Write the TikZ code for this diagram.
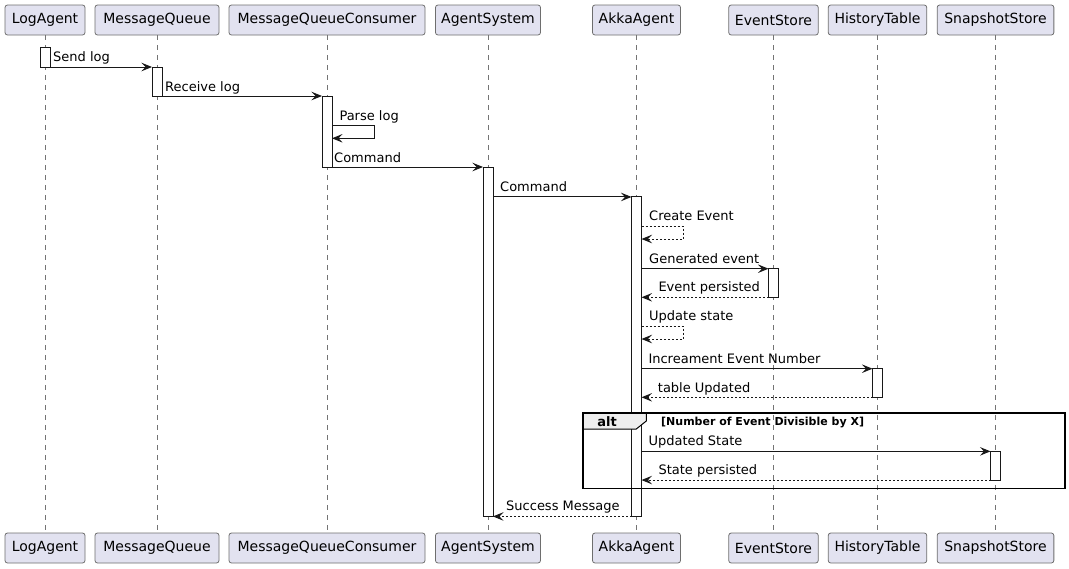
\documentclass[tikz,border=0pt]{standalone}
\usepackage{fontspec}
\setmainfont{DejaVu Sans}
\usetikzlibrary{arrows.meta}
\definecolor{partfill}{HTML}{E2E2F0}
\definecolor{partline}{HTML}{6E6E6E}
\definecolor{ink}{HTML}{181818}
\definecolor{tabfill}{HTML}{EEEEEE}

\begin{document}
\begin{tikzpicture}[x=1pt,y=-1pt,
  part/.style={draw=partline, line width=0.8pt, fill=partfill, rounded corners=2.5pt,
    minimum height=30pt, inner sep=0pt, outer sep=0pt, font=\fontsize{14}{16}\selectfont},
  life/.style={draw=ink!60, line width=0.6pt, dash pattern=on 5pt off 5pt},
  actbar/.style={draw=ink, line width=1pt, fill=white, minimum width=10pt,
    inner sep=0pt, outer sep=0pt},
  msg/.style={draw=ink, line width=1pt, -{Stealth[length=10.5pt,width=8.5pt,inset=4pt]}},
  ret/.style={msg, dash pattern=on 2pt off 2pt},
  lbl/.style={anchor=base west, inner sep=0pt, font=\fontsize{13}{15}\selectfont, text=black}
]
\useasboundingbox (0,0) rectangle (1069,568);

% participants, head and foot
\foreach \nm/\cx/\w/\txt in {la/45/80/LogAgent, mq/157/124/MessageQueue,
    mqc/327/196/MessageQueueConsumer, as/488/105/AgentSystem, aa/636.5/88/AkkaAgent,
    es/773.5/89.5/EventStore, ht/877.5/98.5/HistoryTable, ss/995.5/116.7/SnapshotStore}{
  \node[part, minimum width=\w pt] (\nm T) at (\cx,20) {\txt};
  \node[part, minimum width=\w pt] (\nm B) at (\cx,548) {\txt};
  \draw[life] (\nm T.south) -- (\nm B.north);
}

% activation bars
\node[actbar, minimum height=20pt]    (aLA)  at (45,57) {};
\node[actbar, minimum height=29pt]    (aMQ)  at (157,81.5) {};
\node[actbar, minimum height=71pt]    (aMQC) at (327,131.5) {};
\node[actbar, minimum height=349pt]   (aAS)  at (488,341.5) {};
\node[actbar, minimum height=319.5pt] (aAA)  at (636.5,356.7) {};
\node[actbar, minimum height=28.6pt]  (aES)  at (773.5,283) {};
\node[actbar, minimum height=28.6pt]  (aHT)  at (877.5,383) {};
\node[actbar, minimum height=28.7pt]  (aSS)  at (995.5,465.7) {};

% self-message turning points
\coordinate (p1) at (374.3,125.3);
\coordinate (p2) at (374.3,138.3);
\coordinate (c1) at (683.3,226.3);
\coordinate (c2) at (683.3,239);
\coordinate (u1) at (683.3,326.3);
\coordinate (u2) at (683.3,339);

% messages
\draw[msg] (aLA.south east) -- (aMQ.north west);
\node[lbl] (tSend) at (53,61.7) {Send log};

\draw[msg] (aMQ.south east) -- (aMQC.north west);
\node[lbl] (tRecv) at (165,91) {Receive log};

\draw[msg] (p1 -| aMQC.east) -- (p1) -- (p2) -- (p2 -| aMQC.east);
\node[lbl] (tParse) at (339.3,120.7) {Parse log};

\draw[msg] (aMQC.south east) -- (aAS.north west);
\node[lbl] (tCmd1) at (334,162.3) {Command};

\draw[msg] (aAA.north west -| aAS.east) -- (aAA.north west);
\node[lbl] (tCmd2) at (500,191.7) {Command};

\draw[ret] (c1 -| aAA.east) -- (c1) -- (c2) -- (c2 -| aAA.east);
\node[lbl] (tCreate) at (649,220.7) {Create Event};

\draw[msg] (aES.north west -| aAA.east) -- (aES.north west);
\node[lbl] (tGen) at (649,263.3) {Generated event};

\draw[ret] (aES.south west) -- (aES.south west -| aAA.east);
\node[lbl] (tEvP) at (658.3,291.7) {Event persisted};

\draw[ret] (u1 -| aAA.east) -- (u1) -- (u2) -- (u2 -| aAA.east);
\node[lbl] (tUpd) at (649,320.7) {Update state};

\draw[msg] (aHT.north west -| aAA.east) -- (aHT.north west);
\node[lbl] (tInc) at (648.3,363.3) {Increament Event Number};

\draw[ret] (aHT.south west) -- (aHT.south west -| aAA.east);
\node[lbl] (tTab) at (657.7,392.7) {table Updated};

\draw[msg] (aSS.north west -| aAA.east) -- (aSS.north west);
\node[lbl] (tUS) at (648.3,445.3) {Updated State};

\draw[ret] (aSS.south west) -- (aSS.south west -| aAA.east);
\node[lbl] (tSP) at (658.3,474.3) {State persisted};

\draw[ret] (aAA.south west) -- (aAA.south east -| aAS.east);
\node[lbl] (tSucc) at (506,510.3) {Success Message};

% alt fragment
\draw[fill=tabfill, draw=black, line width=1pt]
  (583,413) -- (646.3,413) -- (646.3,421) -- (636.3,429) -- (583,429) -- cycle;
\draw[black, line width=1.5pt] (583,413) rectangle (1065,488.5);
\node[anchor=base, inner sep=0pt, font=\bfseries\fontsize{13}{15}\selectfont] (tAlt) at (607,426) {alt};
\node[anchor=base west, inner sep=0pt, font=\bfseries\fontsize{11}{13}\selectfont] (tGuard) at (661,425) {[Number of Event Divisible by X]};

\end{tikzpicture}
\end{document}
